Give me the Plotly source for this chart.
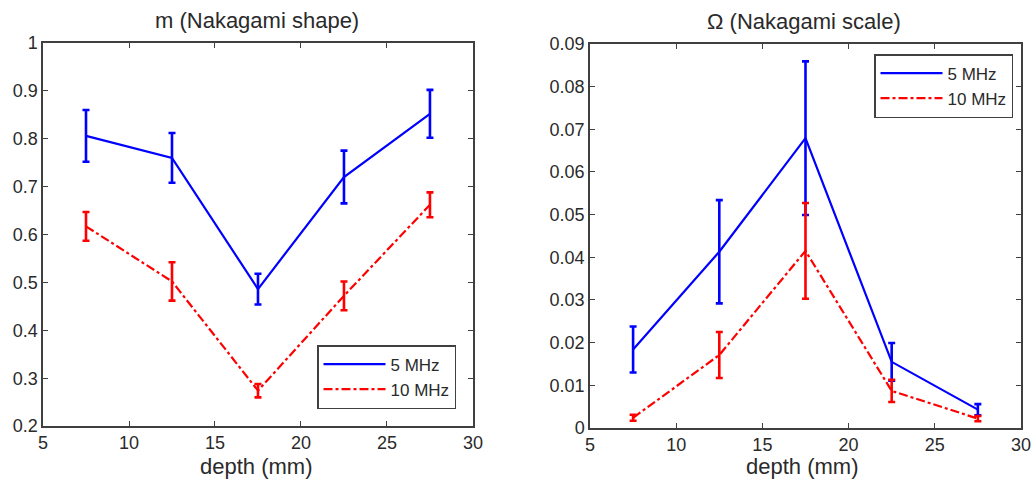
import plotly.graph_objects as go

depth = [7.5, 12.5, 17.5, 22.5, 27.5]

m_5 = [0.806, 0.760, 0.486, 0.720, 0.852]
m_5_err = [0.054, 0.052, 0.032, 0.055, 0.050]
m_10 = [0.617, 0.502, 0.274, 0.472, 0.662]
m_10_err = [0.030, 0.040, 0.014, 0.030, 0.026]

om_5 = [0.0184, 0.0413, 0.0679, 0.0155, 0.0043]
om_5_err = [0.0054, 0.0121, 0.0180, 0.0044, 0.0013]
om_10 = [0.0024, 0.0171, 0.0415, 0.0087, 0.0022]
om_10_err = [0.0007, 0.0054, 0.0112, 0.0026, 0.0006]

x_ticks = [5, 10, 15, 20, 25, 30]
m_ticks = [0.2, 0.3, 0.4, 0.5, 0.6, 0.7, 0.8, 0.9, 1]
om_ticks = [0, 0.01, 0.02, 0.03, 0.04, 0.05, 0.06, 0.07, 0.08, 0.09]

BLUE = "#0000ff"
RED = "#ff0000"
FONT = "Liberation Sans, Arial, sans-serif"
TXT = "#2a2a2a"

fig = go.Figure()

def add(x, y, err, color, dash, name, xa, ya, leg):
    fig.add_trace(go.Scatter(
        x=x, y=y, mode="lines", name=name,
        line=dict(color=color, width=2.2, dash=dash),
        error_y=dict(type="data", array=err, visible=True, color=color,
                     thickness=2.6, width=3.5),
        xaxis=xa, yaxis=ya, legend=leg,
    ))

add(depth, m_5, m_5_err, BLUE, "solid", "5 MHz", "x", "y", "legend")
add(depth, m_10, m_10_err, RED, "dashdot", "10 MHz", "x", "y", "legend")
add(depth, om_5, om_5_err, BLUE, "solid", "5 MHz", "x2", "y2", "legend2")
add(depth, om_10, om_10_err, RED, "dashdot", "10 MHz", "x2", "y2", "legend2")

axis_common = dict(
    showgrid=False, zeroline=False, showline=True, linecolor="#404040",
    linewidth=1.5, mirror="ticks", ticks="inside", ticklen=5,
    tickcolor="#404040", automargin=False,
    tickfont=dict(family=FONT, size=18, color=TXT),
)

fig.update_layout(
    width=1034, height=482,
    margin=dict(l=0, r=0, t=0, b=0),
    paper_bgcolor="white", plot_bgcolor="white",
    font=dict(family=FONT, color=TXT),
    xaxis=dict(domain=[0.0416, 0.4574], range=[5, 30], tickvals=x_ticks,
               anchor="y", **axis_common),
    yaxis=dict(domain=[0.116, 0.911], range=[0.2, 1], tickvals=m_ticks,
               ticktext=[str(t) for t in m_ticks], anchor="x", **axis_common),
    xaxis2=dict(domain=[0.5706, 0.9874], range=[5, 30], tickvals=x_ticks,
                anchor="y2", **axis_common),
    yaxis2=dict(domain=[0.112, 0.909], range=[0, 0.09], tickvals=om_ticks,
                ticktext=[("%g" % t) for t in om_ticks], anchor="x2", **axis_common),
    legend=dict(x=456 / 1034, y=1 - 409 / 482, xanchor="right", yanchor="bottom",
                bgcolor="white", bordercolor="#404040", borderwidth=1.5,
                font=dict(family=FONT, size=17, color=TXT), tracegroupgap=0,
                itemwidth=62),
    legend2=dict(x=1013 / 1034, y=1 - 54 / 482, xanchor="right", yanchor="top",
                 bgcolor="white", bordercolor="#404040", borderwidth=1.5,
                 font=dict(family=FONT, size=17, color=TXT), tracegroupgap=0,
                 itemwidth=62),
    showlegend=True,
    annotations=[
        dict(text="m (Nakagami shape)", x=257 / 1034, y=1 - 21 / 482, xref="paper", yref="paper",
             showarrow=False, font=dict(family=FONT, size=22, color=TXT),
             xanchor="center", yanchor="middle"),
        dict(text="Ω (Nakagami scale)", x=804 / 1034, y=1 - 22 / 482, xref="paper", yref="paper",
             showarrow=False, font=dict(family=FONT, size=22, color=TXT),
             xanchor="center", yanchor="middle"),
        dict(text="depth (mm)", x=256 / 1034, y=1 - 466 / 482, xref="paper", yref="paper",
             showarrow=False, font=dict(family=FONT, size=22, color=TXT),
             xanchor="center", yanchor="middle"),
        dict(text="depth (mm)", x=802 / 1034, y=1 - 466 / 482, xref="paper", yref="paper",
             showarrow=False, font=dict(family=FONT, size=22, color=TXT),
             xanchor="center", yanchor="middle"),
    ],
)

fig.write_html(
    "out.html",
    config={"displayModeBar": False},
    post_script="document.body.style.margin='0';document.body.style.overflow='hidden';",
)
